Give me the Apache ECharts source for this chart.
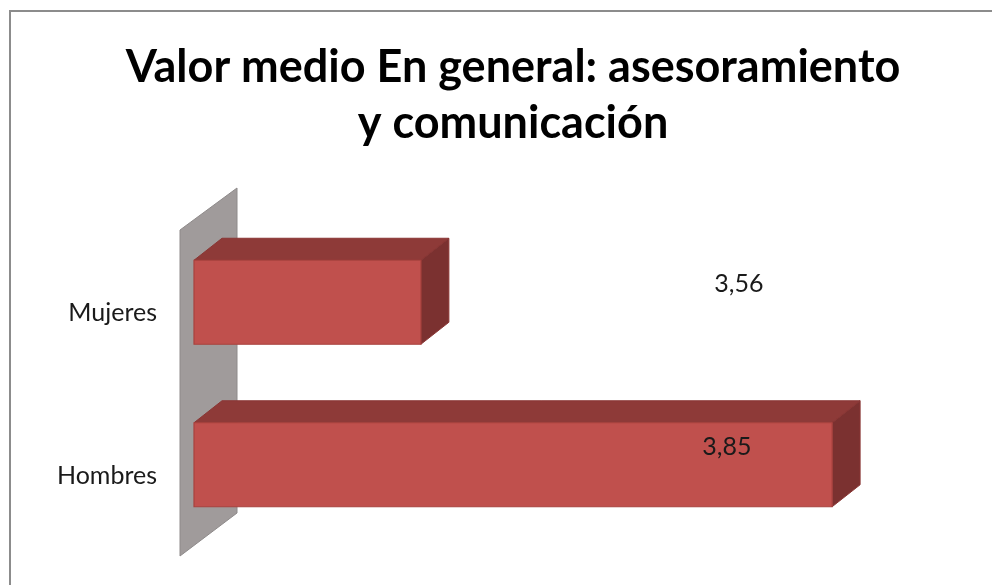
<!DOCTYPE html>
<html>
<head>
<meta charset="utf-8">
<script src="https://cdn.jsdelivr.net/npm/echarts@6/dist/echarts.min.js"></script>
<style>html,body{margin:0;padding:0;background:#fff}#c{width:992px;height:585px}</style>
</head>
<body>
<div id="c"></div>
<script>
const titleText = 'Valor medio En general: asesoramiento\ny comunicación';
const categories = ['Mujeres', 'Hombres'];
const values = [3.56, 3.85];
const axisMin = 3.4;
const axisMax = 3.9;

const chart = echarts.init(document.getElementById('c'), null, {renderer: 'canvas'});
const DX = 28, DY = -22;
const fmt = v => v.toFixed(2).replace('.', ',');

function barItem(params, api) {
  const idx = api.value(0);
  const val = api.value(1);
  const c0 = api.coord([axisMin, idx]);
  const c1 = api.coord([val, idx]);
  const yc = c0[1];
  const x0 = c0[0], x1 = c1[0];
  const yT = yc - 53, yB = yc + 31;
  const labelX = api.coord([3.78, idx])[0] + (idx === 0 ? 6 : -6);
  return {
    type: 'group',
    children: [
      {type: 'polygon', shape: {points: [[x0, yT], [x0 + DX, yT + DY], [x1 + DX, yT + DY], [x1, yT]]},
        style: {fill: '#8E3A38', stroke: '#8A3634', lineWidth: 1}},
      {type: 'polygon', shape: {points: [[x1, yT], [x1 + DX, yT + DY], [x1 + DX, yB + DY], [x1, yB]]},
        style: {fill: '#7B3130', stroke: '#8A3634', lineWidth: 1}},
      {type: 'rect', shape: {x: x0, y: yT, width: x1 - x0, height: yB - yT},
        style: {fill: '#C0504D', stroke: '#A8413E', lineWidth: 1.2}},
      {type: 'text', x: labelX, y: yc - 29,
        style: {text: fmt(val), fill: '#1a1a1a', font: '25px Lato', align: 'center', verticalAlign: 'middle'}, z2: 10}
    ]
  };
}

function wallItem(params, api) {
  const cs = params.coordSys;
  const gx = cs.x, gy = cs.y, gh = cs.height;
  return {
    type: 'polygon',
    shape: {points: [[gx - 14, gy - 2], [gx + 43, gy - 44], [gx + 43, gy + gh - 44], [gx - 14, gy + gh - 1]]},
    style: {fill: '#A09B9B', stroke: '#8E8A8A', lineWidth: 1}
  };
}

chart.setOption({
  animation: false,
  backgroundColor: '#ffffff',
  title: {
    text: titleText,
    left: 508,
    top: 34,
    textAlign: 'center',
    textStyle: {fontFamily: 'Lato', fontWeight: 'bold', fontSize: 45, lineHeight: 56, color: '#000'}
  },
  graphic: [{
    type: 'rect', shape: {x: 10, y: 11, width: 1000, height: 600},
    style: {fill: 'none', stroke: '#8C8C8C', lineWidth: 2}, z: 100, silent: true
  }],
  grid: {left: 194, right: 89, top: 232, bottom: 28, containLabel: false},
  xAxis: {type: 'value', min: axisMin, max: axisMax, show: false},
  yAxis: {
    type: 'category', data: categories, inverse: true,
    axisLine: {show: false}, axisTick: {show: false},
    axisLabel: {margin: 37, color: '#1a1a1a', fontFamily: 'Lato', fontSize: 25}
  },
  series: [
    {type: 'custom', renderItem: wallItem, data: [[0]], z: 1, silent: true},
    {type: 'custom', renderItem: barItem, encode: {x: 1, y: 0}, z: 2,
      data: values.map((v, i) => [i, v])}
  ]
});
</script>
</body>
</html>
